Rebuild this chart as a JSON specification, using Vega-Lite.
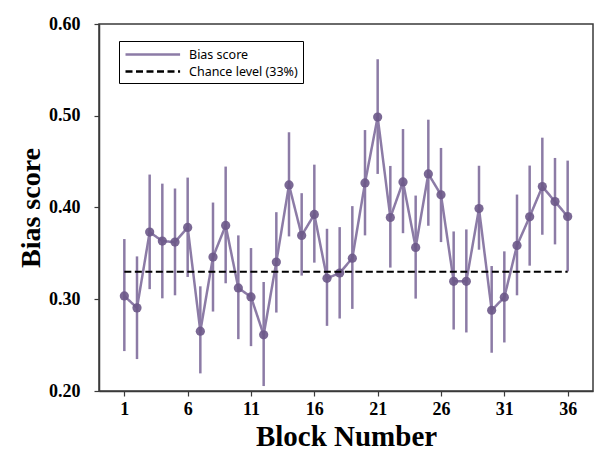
{
  "$schema": "https://vega.github.io/schema/vega-lite/v6.json",
  "width": 494,
  "height": 367,
  "autosize": {"type": "none"},
  "padding": {"left": 99, "top": 24, "right": 7, "bottom": 59},
  "background": "white",
  "config": {
    "view": {"stroke": "#3a3a3a", "strokeWidth": 1.5},
    "axis": {
      "labelFont": "Liberation Serif",
      "labelFontWeight": "bold",
      "labelFontSize": 18,
      "labelColor": "black",
      "titleFont": "Liberation Serif",
      "titleFontWeight": "bold",
      "titleColor": "black",
      "domainColor": "#3a3a3a",
      "domainWidth": 1.5,
      "tickColor": "#3a3a3a",
      "tickWidth": 1.2,
      "tickSize": 5,
      "grid": false
    },
    "legend": {
      "labelFont": "Noto Sans",
      "labelFontSize": 12.5,
      "labelColor": "black",
      "strokeColor": "black",
      "fillColor": "white",
      "padding": 5,
      "cornerRadius": 0,
      "symbolType": "M-1,0H6.8",
      "symbolStrokeWidth": 2.5,
      "symbolSize": 196,
      "labelOffset": 48,
      "rowPadding": 2
    }
  },
  "datasets": {
    "bias": [
      {"block": 1, "score": 0.3036, "lower": 0.2435, "upper": 0.3656, "series": "Bias score"},
      {"block": 2, "score": 0.2906, "lower": 0.2348, "upper": 0.3467, "series": "Bias score"},
      {"block": 3, "score": 0.3732, "lower": 0.311, "upper": 0.4359, "series": "Bias score"},
      {"block": 4, "score": 0.3634, "lower": 0.301, "upper": 0.426, "series": "Bias score"},
      {"block": 5, "score": 0.3623, "lower": 0.3043, "upper": 0.4207, "series": "Bias score"},
      {"block": 6, "score": 0.3783, "lower": 0.3243, "upper": 0.4326, "series": "Bias score"},
      {"block": 7, "score": 0.2652, "lower": 0.2192, "upper": 0.3141, "series": "Bias score"},
      {"block": 8, "score": 0.346, "lower": 0.2866, "upper": 0.4054, "series": "Bias score"},
      {"block": 9, "score": 0.3804, "lower": 0.3174, "upper": 0.4446, "series": "Bias score"},
      {"block": 10, "score": 0.3123, "lower": 0.2565, "upper": 0.3696, "series": "Bias score"},
      {"block": 11, "score": 0.3025, "lower": 0.2489, "upper": 0.3558, "series": "Bias score"},
      {"block": 12, "score": 0.2612, "lower": 0.2054, "upper": 0.3188, "series": "Bias score"},
      {"block": 13, "score": 0.3406, "lower": 0.2855, "upper": 0.3949, "series": "Bias score"},
      {"block": 14, "score": 0.4246, "lower": 0.3685, "upper": 0.482, "series": "Bias score"},
      {"block": 15, "score": 0.3696, "lower": 0.3258, "upper": 0.4156, "series": "Bias score"},
      {"block": 16, "score": 0.3924, "lower": 0.3399, "upper": 0.4467, "series": "Bias score"},
      {"block": 17, "score": 0.3228, "lower": 0.271, "upper": 0.3768, "series": "Bias score"},
      {"block": 18, "score": 0.3286, "lower": 0.279, "upper": 0.3786, "series": "Bias score"},
      {"block": 19, "score": 0.3448, "lower": 0.2895, "upper": 0.4015, "series": "Bias score"},
      {"block": 20, "score": 0.4268, "lower": 0.3696, "upper": 0.4844, "series": "Bias score"},
      {"block": 21, "score": 0.4986, "lower": 0.4366, "upper": 0.5616, "series": "Bias score"},
      {"block": 22, "score": 0.3891, "lower": 0.3345, "upper": 0.4453, "series": "Bias score"},
      {"block": 23, "score": 0.4279, "lower": 0.372, "upper": 0.4855, "series": "Bias score"},
      {"block": 24, "score": 0.3565, "lower": 0.3007, "upper": 0.413, "series": "Bias score"},
      {"block": 25, "score": 0.4366, "lower": 0.3801, "upper": 0.4957, "series": "Bias score"},
      {"block": 26, "score": 0.4138, "lower": 0.3623, "upper": 0.4649, "series": "Bias score"},
      {"block": 27, "score": 0.3196, "lower": 0.267, "upper": 0.3739, "series": "Bias score"},
      {"block": 28, "score": 0.3196, "lower": 0.2638, "upper": 0.3761, "series": "Bias score"},
      {"block": 29, "score": 0.3988, "lower": 0.354, "upper": 0.4455, "series": "Bias score"},
      {"block": 30, "score": 0.288, "lower": 0.2417, "upper": 0.3362, "series": "Bias score"},
      {"block": 31, "score": 0.3022, "lower": 0.2529, "upper": 0.3522, "series": "Bias score"},
      {"block": 32, "score": 0.3587, "lower": 0.3043, "upper": 0.4141, "series": "Bias score"},
      {"block": 33, "score": 0.3899, "lower": 0.3366, "upper": 0.4457, "series": "Bias score"},
      {"block": 34, "score": 0.4228, "lower": 0.3703, "upper": 0.4761, "series": "Bias score"},
      {"block": 35, "score": 0.4065, "lower": 0.3598, "upper": 0.454, "series": "Bias score"},
      {"block": 36, "score": 0.3902, "lower": 0.3304, "upper": 0.4511, "series": "Bias score"}
    ],
    "chance": [
      {"block": 1, "score": 0.33, "series": "Chance level (33%)"},
      {"block": 36, "score": 0.33, "series": "Chance level (33%)"}
    ]
  },
  "layer": [
    {
      "data": {"name": "bias"},
      "mark": {"type": "rule", "strokeWidth": 2.5, "color": "#8c7ba6"},
      "encoding": {
        "x": {"field": "block", "type": "quantitative", "scale": {"domain": [-1, 38], "nice": false, "zero": false},
          "axis": {"values": [1, 6, 11, 16, 21, 26, 31, 36], "title": "Block Number", "titleFontSize": 29, "labelPadding": 4, "titlePadding": 4, "format": "d"}},
        "y": {"field": "lower", "type": "quantitative", "scale": {"domain": [0.2, 0.6], "nice": false, "zero": false},
          "axis": {"values": [0.2, 0.3, 0.4, 0.5, 0.6], "format": ".2f", "title": "Bias score", "titleFontSize": 28, "labelPadding": 14, "titlePadding": 3}},
        "y2": {"field": "upper"}
      }
    },
    {
      "data": {"name": "bias"},
      "mark": {"type": "line", "strokeWidth": 2.5},
      "encoding": {
        "x": {"field": "block", "type": "quantitative"},
        "y": {"field": "score", "type": "quantitative"},
        "stroke": {"field": "series", "type": "nominal",
          "scale": {"domain": ["Bias score", "Chance level (33%)"], "range": ["#8c7ba6", "black"]},
          "legend": {"title": null, "orient": "none", "legendX": 20, "legendY": 17}},
        "strokeDash": {"field": "series", "type": "nominal",
          "scale": {"domain": ["Bias score", "Chance level (33%)"], "range": [[1, 0], [7, 3.5]]},
          "legend": {"title": null, "orient": "none", "legendX": 20, "legendY": 17}}
      }
    },
    {
      "data": {"name": "bias"},
      "mark": {"type": "point", "filled": true, "size": 85, "color": "#6b5888", "opacity": 0.9},
      "encoding": {
        "x": {"field": "block", "type": "quantitative"},
        "y": {"field": "score", "type": "quantitative"}
      }
    },
    {
      "data": {"name": "chance"},
      "mark": {"type": "line", "strokeWidth": 2},
      "encoding": {
        "x": {"field": "block", "type": "quantitative"},
        "y": {"field": "score", "type": "quantitative"},
        "stroke": {"field": "series", "type": "nominal"},
        "strokeDash": {"field": "series", "type": "nominal"}
      }
    }
  ]
}
